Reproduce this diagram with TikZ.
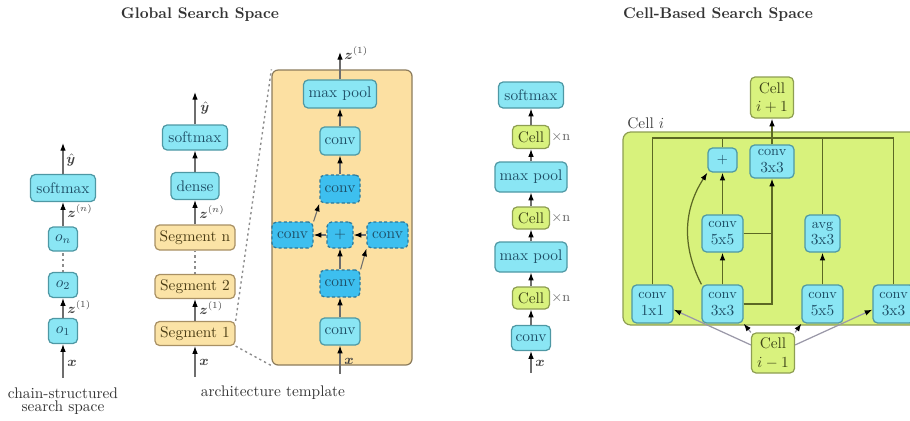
\documentclass[tikz,border=0pt]{standalone}
\usepackage{bm}
\usetikzlibrary{arrows.meta}

\definecolor{cyanF}{HTML}{8AE6F4}
\definecolor{cyanD}{HTML}{4E98A4}
\definecolor{cyanDF}{HTML}{3DBFEF}
\definecolor{cyanDD}{HTML}{2E7898}
\definecolor{txtC}{HTML}{1E4E66}
\definecolor{segF}{HTML}{FBE3A6}
\definecolor{segD}{HTML}{A89064}
\definecolor{txtS}{HTML}{4A3C14}
\definecolor{tmplF}{HTML}{FCE0A2}
\definecolor{tmplD}{HTML}{8C7C5C}
\definecolor{grF}{HTML}{D9F27E}
\definecolor{grD}{HTML}{8E9E52}
\definecolor{txtG}{HTML}{3E4418}
\definecolor{cellF}{HTML}{D8F27C}
\definecolor{lineC}{HTML}{6E6E6E}
\definecolor{innerC}{HTML}{5C6824}
\definecolor{feedC}{HTML}{9A98A8}

\tikzset{
  sz/.style 2 args={minimum width={#1*0.65pt}, minimum height={#2*0.65pt}},
  blk/.style={draw, rounded corners=3pt, line width=0.8pt, inner sep=1pt, align=center},
  cy/.style={blk, fill=cyanF, draw=cyanD, text=txtC},
  cyd/.style={blk, fill=cyanDF, draw=cyanDD, dash pattern=on 2pt off 1.5pt, text=txtC},
  seg/.style={blk, fill=segF, draw=segD, text=txtS},
  gr/.style={blk, fill=grF, draw=grD, text=txtG},
  ops/.style={cy, font=\small, inner sep=0pt},
  arr/.style={-{Latex[length=5pt,width=3.6pt,color=black]}, line width=0.7pt, draw=lineC},
  inarr/.style={-{Latex[length=5pt,width=3.6pt,color=black]}, line width=0.8pt, draw=innerC},
  inln/.style={line width=0.8pt, draw=innerC},
  feed/.style={-{Latex[length=5pt,width=3.6pt,color=black]}, line width=0.8pt, draw=feedC},
  lab/.style={anchor=west, inner sep=0pt, font=\small, text=black!75},
  captxt/.style={inner sep=0pt, text=black!80},
  ttl/.style={inner sep=0pt, font=\bfseries, text=black!80},
  gapln/.style={draw=black!45, line width=0.9pt, dash pattern=on 1.5pt off 2pt},
}

\begin{document}
\begin{tikzpicture}[x=0.65pt, y=-0.65pt]
\useasboundingbox (0,0) rectangle (910,420);

% ---------- titles ----------
\node[ttl] (tglob) at (200,15) {Global Search Space};
\node[ttl] (tcell) at (718,15) {Cell-Based Search Space};

% ---------- chain-structured space ----------
\node[cy, sz={65}{27}] (csm) at (63,188) {softmax};
\node[cy, sz={29}{24}] (con) at (63,239) {$o_n$};
\node[cy, sz={29}{25}] (co2) at (63,285) {$o_2$};
\node[cy, sz={29}{25}] (co1) at (63,331) {$o_1$};
\coordinate (cin) at (63,378);
\coordinate (cout) at (63,143);
\draw[arr] (cin) -- (co1.south);
\draw[arr] (co1) -- (co2);
\draw[gapln] (co2) -- (con);
\draw[arr] (con) -- (csm);
\draw[arr] (csm) -- (cout);
\node[lab] (cly) at (66,160) {$\hat{\bm{y}}$};
\node[lab] (clzn) at (67,211) {$\bm{z}^{(n)}$};
\node[lab] (clz1) at (67,307) {$\bm{z}^{(1)}$};
\node[lab] (clx) at (67,363) {$\bm{x}$};
\node[captxt] (ccap1) at (63,393) {chain-structured};
\node[captxt] (ccap2) at (63,408) {search space};

% ---------- architecture template ----------
\node[cy, sz={65}{25}] (gsm) at (195,137.5) {softmax};
\node[cy, sz={48}{27}] (gde) at (195,186) {dense};
\node[seg, sz={80}{25}] (gsn) at (195,237.5) {Segment n};
\node[seg, sz={80}{24}] (gs2) at (195,286.5) {Segment 2};
\node[seg, sz={80}{24}] (gs1) at (195,333.5) {Segment 1};
\coordinate (gin) at (195,377);
\coordinate (gout) at (195,92);
\draw[arr] (gin) -- (gs1.south);
\draw[arr] (gs1) -- (gs2);
\draw[gapln] (gs2) -- (gsn);
\draw[arr] (gsn) -- (gde);
\draw[arr] (gde) -- (gsm);
\draw[arr] (gsm) -- (gout);
\node[lab] (gly) at (200,108) {$\hat{\bm{y}}$};
\node[lab] (glzn) at (199,212) {$\bm{z}^{(n)}$};
\node[lab] (glz1) at (199,308) {$\bm{z}^{(1)}$};
\node[lab] (glx) at (199,362) {$\bm{x}$};
\node[captxt] (gcap) at (273,393) {architecture template};

% expanded segment
\node[draw=tmplD, fill=tmplF, line width=0.8pt, rounded corners=4pt,
      sz={140}{295}] (tmpl) at (342,217.5) {};
\draw[gapln] (gs1.north east) -- (tmpl.north west);
\draw[gapln] (gs1.south east) -- (tmpl.south west);

\node[cy,  sz={73}{28}] (tmp) at (340,94) {max pool};
\node[cy,  sz={40}{28}] (tc4) at (340,141) {conv};
\node[cyd, sz={40}{28}] (tc3) at (340,189) {conv};
\node[cyd, sz={41}{26}] (tcl) at (292.5,235) {conv};
\node[cyd, sz={26}{26}] (tpl) at (340,235) {$+$};
\node[cyd, sz={41}{26}] (tcr) at (387.5,235) {conv};
\node[cyd, sz={40}{27}] (tc2) at (340,283.5) {conv};
\node[cy,  sz={40}{27}] (tc1) at (340,331.5) {conv};
\coordinate (tin) at (340,374);
\coordinate (tout) at (340,52);
\draw[arr] (tin) -- (tc1);
\draw[arr] (tc1) -- (tc2);
\draw[arr] (tc2) -- (tpl);
\draw[arr] (tc2.north east) -- (tcr.south west);
\draw[arr] (tcr) -- (tpl);
\draw[arr] (tpl) -- (tcl);
\draw[arr] (tcl.north east) -- (tc3.south west);
\draw[arr] (tc3) -- (tc4);
\draw[arr] (tc4) -- (tmp);
\draw[arr] (tmp) -- (tout);
\node[lab] (tlz) at (344,53) {$\bm{z}^{(1)}$};
\node[lab] (tlx) at (344,361) {$\bm{x}$};

% ---------- cell-based macro architecture ----------
\node[cy, sz={65}{26}] (msm) at (531,95) {softmax};
\node[gr, sz={37}{23}] (mc3) at (531,137) {Cell};
\node[cy, sz={72}{30}] (mp2) at (531,177) {max pool};
\node[gr, sz={37}{22}] (mc2) at (531,218) {Cell};
\node[cy, sz={72}{30}] (mp1) at (531,257) {max pool};
\node[gr, sz={37}{22}] (mc1) at (531,298) {Cell};
\node[cy, sz={39}{25}] (mcv) at (531,338) {conv};
\coordinate (min) at (531,373);
\draw[arr] (min) -- (mcv);
\draw[arr] (mcv) -- (mc1);
\draw[arr] (mc1) -- (mp1);
\draw[arr] (mp1) -- (mc2);
\draw[arr] (mc2) -- (mp2);
\draw[arr] (mp2) -- (mc3);
\draw[arr] (mc3) -- (msm);
\node[lab, text=black!60] (mn3) at (551,137) {$\times$n};
\node[lab, text=black!60] (mn2) at (551,218) {$\times$n};
\node[lab, text=black!60] (mn1) at (551,298) {$\times$n};
\node[lab] (mlx) at (535,363) {$\bm{x}$};

% ---------- inside one cell ----------
\node[draw=grD, fill=cellF, line width=0.8pt, rounded corners=5pt,
      sz={300}{193}] (celli) at (773,228.5) {};
\node[anchor=west, inner sep=0pt, text=black!75] (cilab) at (627,123) {Cell $i$};

\node[gr, sz={43}{41}] (cnext) at (772,97.5) {Cell\\$i+1$};
\node[gr, sz={43}{40}] (cprev) at (773,353) {Cell\\$i-1$};

\node[ops, sz={29}{24}] (kplus) at (722.5,160) {$+$};
\node[ops, sz={44}{33}] (kc3t) at (772,161.5) {conv\\\normalsize 3x3};
\node[ops, sz={41}{37}] (kc5m) at (722.5,233.5) {conv\\\normalsize 5x5};
\node[ops, sz={35}{37}] (kavg) at (822.5,233.5) {avg\\\normalsize 3x3};
\node[ops, sz={41}{38}] (kc1) at (652.5,304) {conv\\\normalsize 1x1};
\node[ops, sz={41}{38}] (kc3) at (722.5,304) {conv\\\normalsize 3x3};
\node[ops, sz={41}{38}] (kc5) at (822.5,304) {conv\\\normalsize 5x5};
\node[ops, sz={41}{38}] (kc3r) at (893.5,304) {conv\\\normalsize 3x3};

% concatenation of the cell outputs
\coordinate (topln) at (772,138);
\draw[inln] (kc1.north) -- (kc1.north |- topln) -- (kc3r.north |- topln) -- (kc3r.north);
\draw[inln] (kplus.north) -- (kplus.north |- topln);
\draw[inln] (kavg.north) -- (kavg.north |- topln);
\draw[inarr] (kc3t.north) -- (cnext.south);

% operations inside the cell
\draw[inarr] (kc3) -- (kc5m);
\draw[inarr] (kc5m) -- (kplus);
\draw[inarr] (kc3.north west) to[bend left=30] (kplus.south west);
\draw[inarr] (kc3.east) -| (kc3t.south);
\draw[inln] (kc5m.east) -- (kc5m.east -| kc3t.south);
\draw[inarr] (kc5) -- (kavg);

% inputs from the previous cell
\draw[feed] (cprev.160) -- (kc1.-15);
\draw[feed] (cprev.north west) -- (kc3.south east);
\draw[feed] (cprev.north east) -- (kc5.south west);
\draw[feed] (cprev.20) -- (kc3r.-165);
\end{tikzpicture}
\end{document}
